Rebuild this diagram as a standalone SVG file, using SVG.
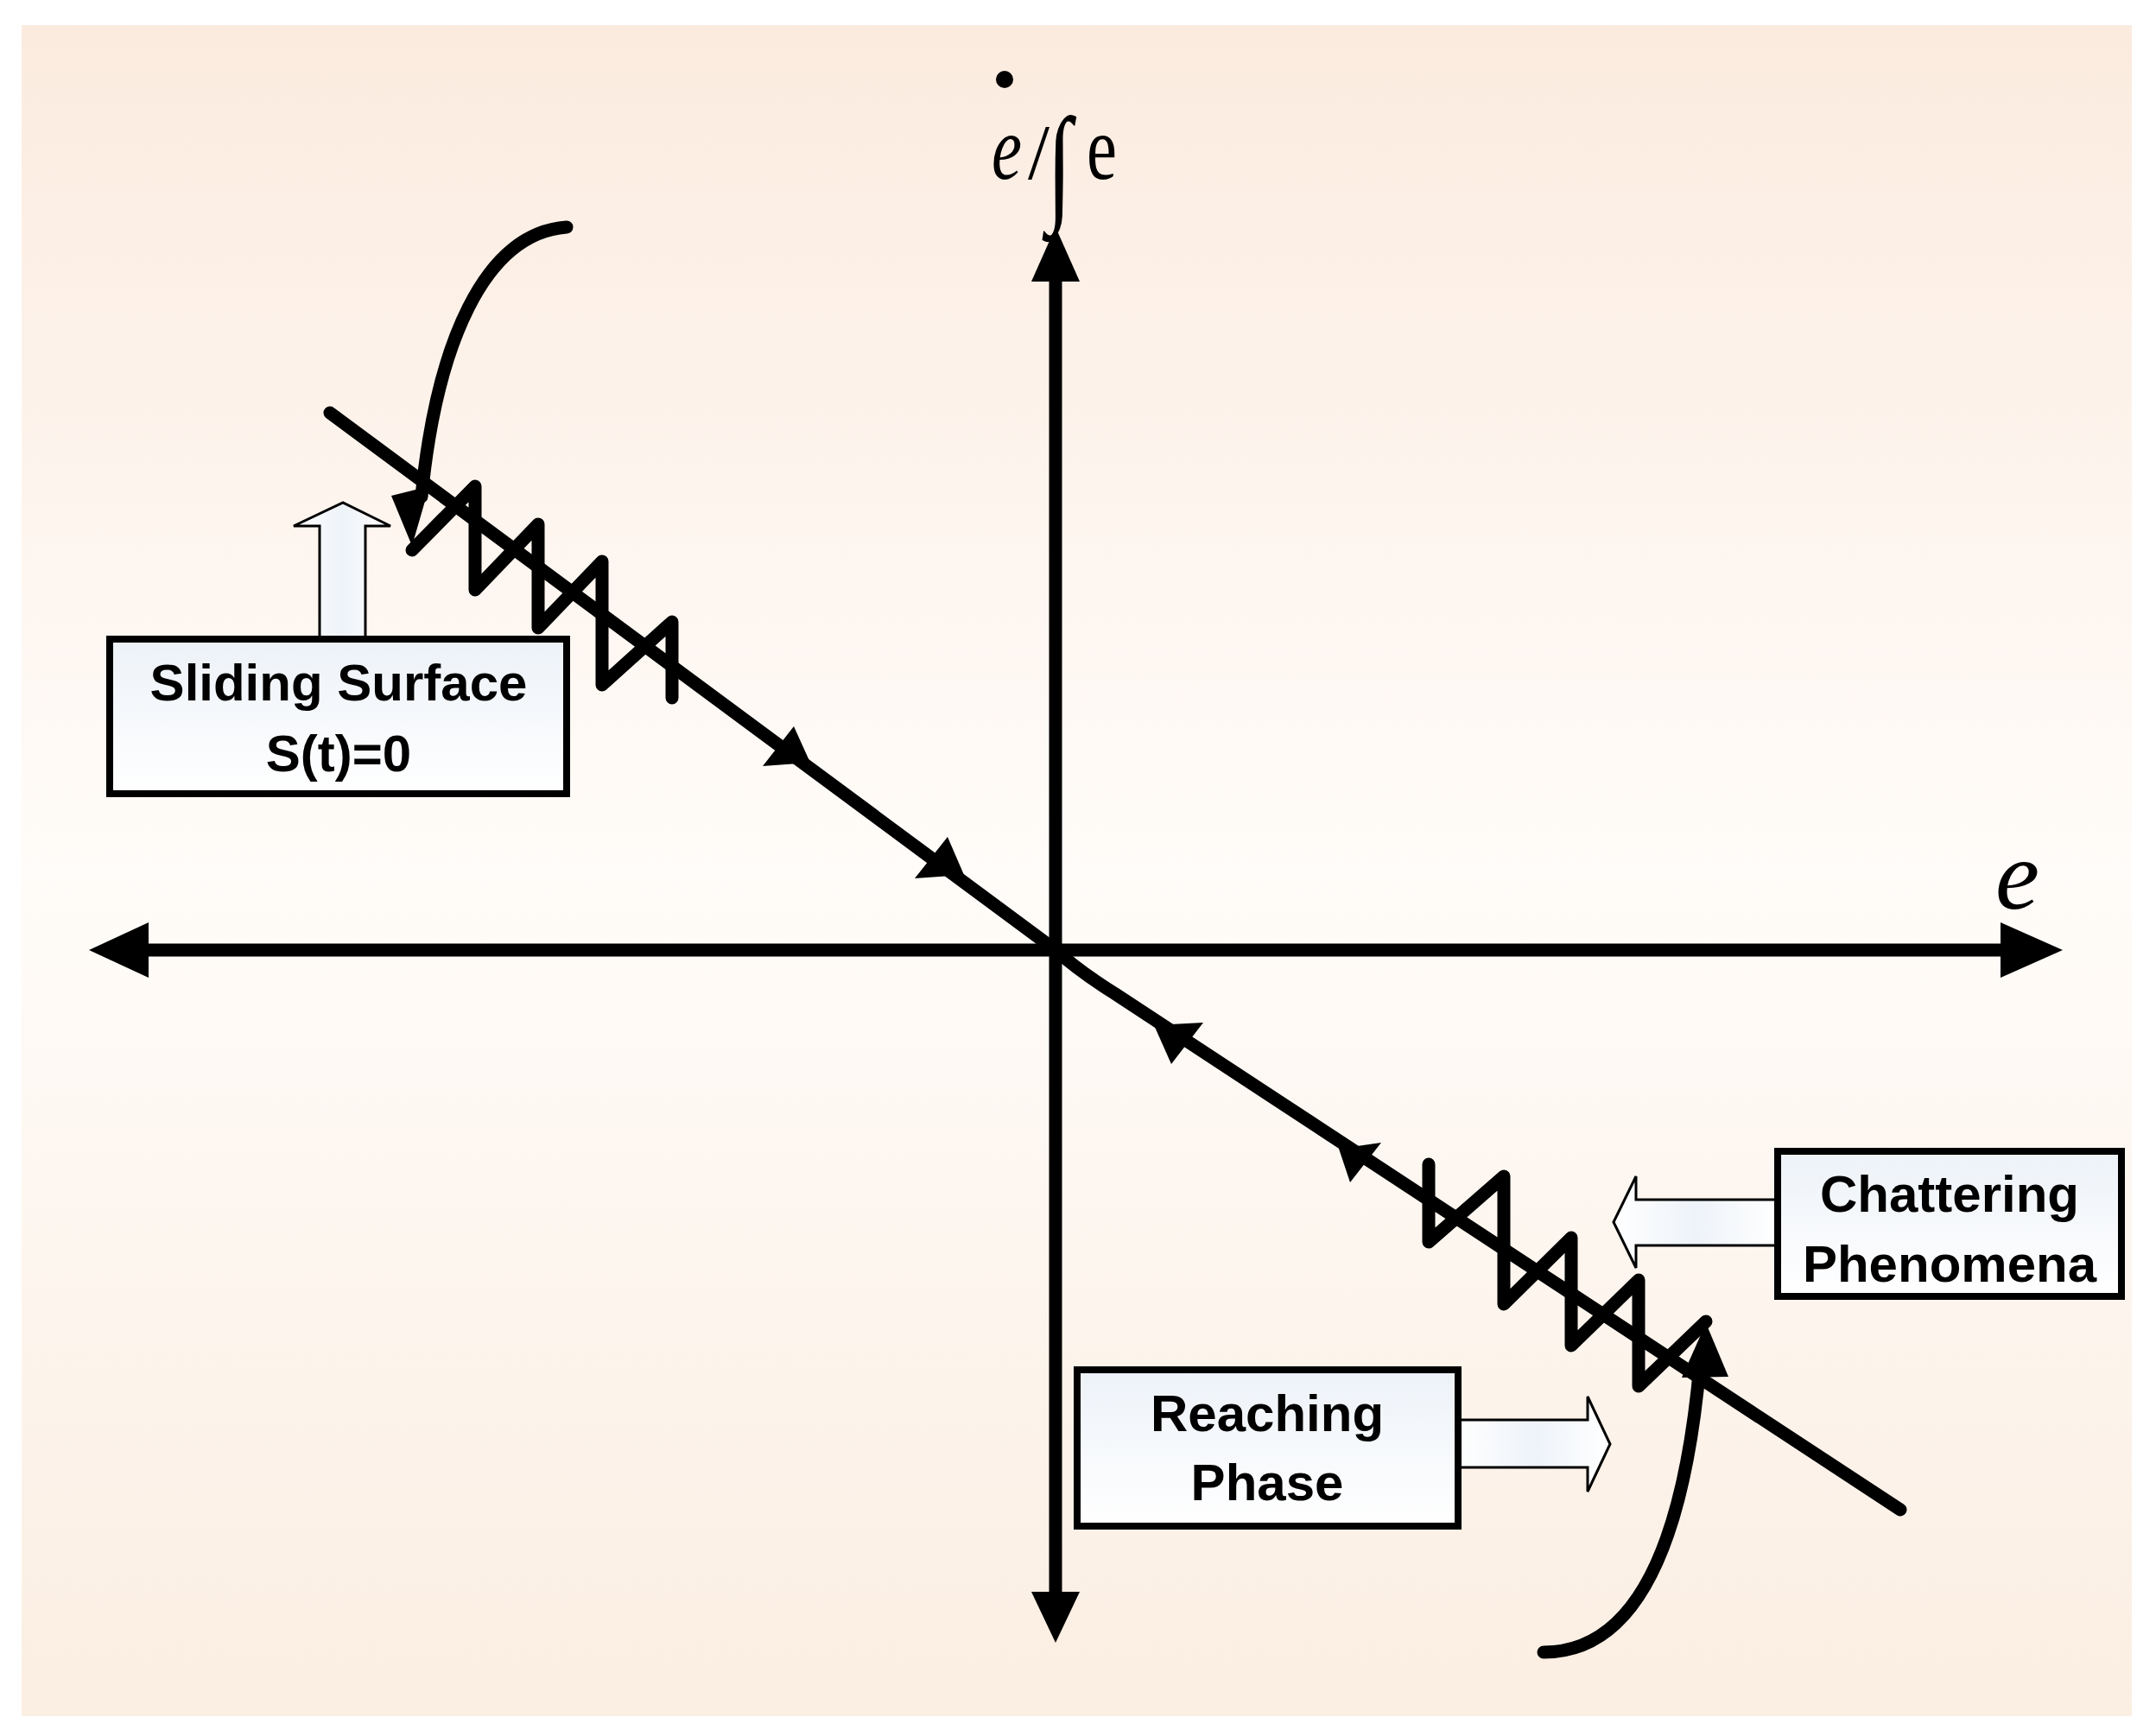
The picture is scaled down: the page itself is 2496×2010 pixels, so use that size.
<svg xmlns="http://www.w3.org/2000/svg" width="2496" height="2010" viewBox="0 0 2496 2010">
<defs>
<linearGradient id="bg" x1="0" y1="0" x2="0" y2="1">
<stop offset="0" stop-color="#fbebdf"/><stop offset="0.5" stop-color="#fffcf9"/><stop offset="1" stop-color="#fbeee2"/>
</linearGradient>
<linearGradient id="bx" x1="0" y1="0" x2="0" y2="1">
<stop offset="0" stop-color="#edf2f8"/><stop offset="1" stop-color="#ffffff"/>
</linearGradient>
<linearGradient id="ar" x1="0" y1="0" x2="1" y2="0">
<stop offset="0" stop-color="#ffffff"/><stop offset="0.5" stop-color="#eef3f9"/><stop offset="1" stop-color="#ffffff"/>
</linearGradient>
<style>
.ax{stroke:#000;stroke-width:15;fill:none}
.ln{stroke:#000;stroke-width:15;fill:none;stroke-linecap:round;stroke-linejoin:round}
.zz{stroke:#000;stroke-width:15;fill:none;stroke-linecap:round;stroke-linejoin:round}
.hd{fill:#000}
.box{fill:url(#bx);stroke:#000;stroke-width:8}
.hol{fill:url(#ar);stroke:#000;stroke-width:3}
.lbl{font-family:"Liberation Sans",Arial,sans-serif;font-weight:bold;font-size:60px;text-anchor:middle;fill:#000}
.math{font-family:"Liberation Serif","Times New Roman",serif;fill:#000}
</style>
</defs>
<rect x="0" y="0" width="2496" height="2010" fill="#fff"/>
<rect x="25" y="29" width="2443" height="1958" fill="url(#bg)"/>
<g id="connectors">
<!-- axes -->
<line class="ax" x1="160" y1="1100" x2="2330" y2="1100"/>
<polygon class="hd" points="103,1100 172,1068 172,1132"/>
<polygon class="hd" points="2388,1100 2316,1068 2316,1132"/>
<line class="ax" x1="1222" y1="315" x2="1222" y2="1855"/>
<polygon class="hd" points="1222,263 1194,326 1250,326"/>
<polygon class="hd" points="1222,1902 1194,1843 1250,1843"/>
<!-- sliding line -->
<path class="ln" d="M382,478 L1222,1100 Q1250,1125 1290,1150 L2200,1748"/>
<polygon class="hd" points="938,883 919,841 883,887"/>
<polygon class="hd" points="1116,1013 1097,969 1059,1017"/>
<polygon class="hd" points="1336,1187 1393,1184 1356,1232"/>
<polygon class="hd" points="1550,1330 1599,1323 1563,1369"/>
<!-- zigzags -->
<polyline class="zz" points="477,637 550,563 550,683 623,607 623,727 697,650 697,793 778,720 778,808"/>
<polyline class="zz" points="1654,1348 1654,1438 1741,1362 1741,1510 1819,1433 1819,1558 1897,1482 1897,1605 1975,1530"/>
<!-- curved arrows -->
<path class="ln" d="M656,263 C560,270 505,400 488,575"/>
<polygon class="hd" points="477,632 453,574 497,563"/>
<path class="ln" d="M1787,1913 C1905,1913 1952,1760 1968,1580"/>
<polygon class="hd" points="1975,1532 1947,1595 2001,1594"/>
<!-- hollow block arrows -->
<polygon class="hol" points="370,740 370,609 340,609 397,582 452,609 423,609 423,740"/>
<polygon class="hol" points="2058,1389 1894,1389 1894,1362 1868,1415 1894,1468 1894,1442 2058,1442"/>
<polygon class="hol" points="1688,1644 1838,1644 1838,1617 1864,1672 1838,1727 1838,1699 1688,1699"/>
</g>
<g id="sliding-surface">
<rect class="box" x="127" y="740" width="529" height="179"/>
<text class="lbl" x="392" y="811">Sliding Surface</text>
<text class="lbl" x="392" y="893">S(t)=0</text>
</g>
<g id="chattering">
<rect class="box" x="2058" y="1333" width="398" height="168"/>
<text class="lbl" x="2257" y="1403">Chattering</text>
<text class="lbl" x="2257" y="1484">Phenomena</text>
</g>
<g id="reaching">
<rect class="box" x="1247" y="1586" width="441" height="181"/>
<text class="lbl" x="1467" y="1657">Reaching</text>
<text class="lbl" x="1467" y="1737">Phase</text>
</g>
<g id="axis-labels">
<text class="math" x="2310" y="1052" font-size="115" font-style="italic">e</text>
<circle cx="1163" cy="92" r="10" fill="#000"/>
<text class="math" x="1148" y="207" font-size="105" font-style="italic" transform="translate(1148 0) scale(0.75 1) translate(-1148 0)">e</text>
<text class="math" x="1190" y="207" font-size="90">/</text>
<text class="math" x="1212" y="240" font-size="150" transform="translate(1212 0) scale(0.7 1) translate(-1212 0)">∫</text>
<text class="math" x="1258" y="207" font-size="105" transform="translate(1258 0) scale(0.75 1) translate(-1258 0)">e</text>
</g>
</svg>
